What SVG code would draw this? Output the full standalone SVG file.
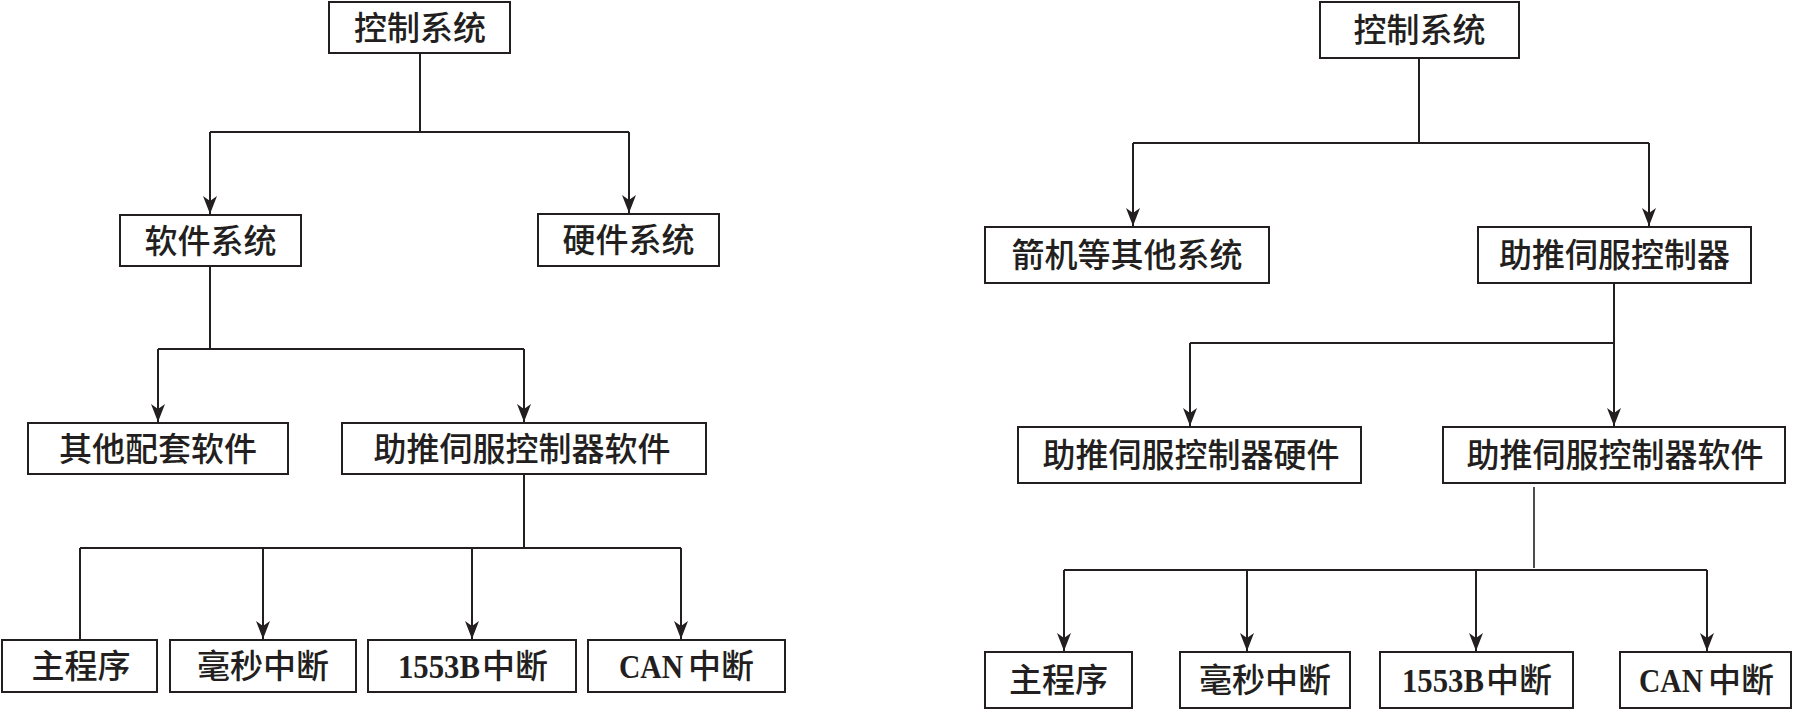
<svg xmlns="http://www.w3.org/2000/svg" width="1793" height="710" viewBox="0 0 1793 710">
<style>
.box{fill:#ffffff;stroke:#231f20;stroke-width:2}
.t{font-family:"Noto Sans CJK SC","Noto Sans CJK TC",sans-serif;font-size:33px;font-weight:500;fill:#231f20;text-anchor:middle}
.ts{font-family:"Noto Sans CJK SC","Noto Sans CJK TC",sans-serif;font-size:33px;font-weight:500;fill:#231f20;text-anchor:start}
.lat{font-family:"Liberation Serif","Times New Roman",serif;font-weight:bold;font-size:34px;fill:#231f20;text-anchor:start}
.ln{fill:none;stroke:#231f20;stroke-width:2}
.thin{fill:none;stroke:#231f20;stroke-width:1.6}
.arr{marker-end:url(#ah)}
</style>
<defs>
<marker id="ah" markerUnits="userSpaceOnUse" markerWidth="20" markerHeight="16" viewBox="-19 -8 20 16" refX="0" refY="0" orient="auto">
<path d="M0,0 L-18,-7 L-13,0 L-18,7 Z" fill="#231f20"/>
</marker>
</defs>
<rect width="1793" height="710" fill="#ffffff"/>
<g id="connectors">
<!-- left tree -->
<path class="ln" d="M420,54 V132 M210,132 H629"/>
<path class="ln arr" d="M210,132 V214"/>
<path class="ln arr" d="M629,132 V213"/>
<path class="ln" d="M210,267 V349 M158,349 H524"/>
<path class="ln arr" d="M158,349 V422"/>
<path class="ln arr" d="M524,349 V422"/>
<path class="ln" d="M524,475 V548 M80,548 H681 M80,548 V639"/>
<path class="ln arr" d="M263,548 V639"/>
<path class="ln arr" d="M472,548 V639"/>
<path class="ln arr" d="M681,548 V639"/>
<!-- right tree -->
<path class="ln" d="M1419,59 V143 M1133,143 H1649"/>
<path class="ln arr" d="M1133,143 V226"/>
<path class="ln arr" d="M1649,143 V226"/>
<path class="ln" d="M1614,284 V343 M1190,343 H1614"/>
<path class="ln arr" d="M1190,343 V426"/>
<path class="ln arr" d="M1614,343 V426"/>
<path class="thin" d="M1534,487 V568"/>
<path class="ln" d="M1064,570 H1707"/>
<path class="ln arr" d="M1064,570 V651"/>
<path class="ln arr" d="M1247,570 V651"/>
<path class="ln arr" d="M1476,570 V651"/>
<path class="ln arr" d="M1707,570 V651"/>
</g>
<!-- left tree nodes -->
<g id="L_ctrl"><rect class="box" x="329" y="2" width="181" height="51"/><text class="t" x="420" y="39.5">控制系统</text></g>
<g id="L_sw"><rect class="box" x="120" y="215" width="181" height="51"/><text class="t" x="210.5" y="252.5">软件系统</text></g>
<g id="L_hw"><rect class="box" x="538" y="214" width="181" height="52"/><text class="t" x="628.5" y="252">硬件系统</text></g>
<g id="L_other"><rect class="box" x="28" y="423" width="260" height="51"/><text class="t" x="158" y="460.5">其他配套软件</text></g>
<g id="L_servo_sw"><rect class="box" x="342" y="423" width="364" height="51"/><text class="t" x="522" y="460.5">助推伺服控制器软件</text></g>
<g id="L_main"><rect class="box" x="2" y="640" width="155" height="52"/><text class="t" x="81" y="678">主程序</text></g>
<g id="L_ms"><rect class="box" x="170" y="640" width="186" height="52"/><text class="t" x="263" y="678">毫秒中断</text></g>
<g id="L_1553"><rect class="box" x="368" y="640" width="208" height="52"/><text class="lat" x="398" y="678" textLength="82" lengthAdjust="spacingAndGlyphs">1553B</text><text class="ts" x="482" y="678">中断</text></g>
<g id="L_can"><rect class="box" x="588" y="640" width="197" height="52"/><text class="lat" x="619" y="678" textLength="64" lengthAdjust="spacingAndGlyphs">CAN</text><text class="ts" x="688" y="678">中断</text></g>
<!-- right tree nodes -->
<g id="R_ctrl"><rect class="box" x="1320" y="2" width="199" height="56"/><text class="t" x="1419.5" y="42">控制系统</text></g>
<g id="R_other"><rect class="box" x="985" y="227" width="284" height="56"/><text class="t" x="1127" y="267">箭机等其他系统</text></g>
<g id="R_servo"><rect class="box" x="1478" y="227" width="273" height="56"/><text class="t" x="1614.5" y="267">助推伺服控制器</text></g>
<g id="R_servo_hw"><rect class="box" x="1018" y="427" width="343" height="56"/><text class="t" x="1191" y="467">助推伺服控制器硬件</text></g>
<g id="R_servo_sw"><rect class="box" x="1443" y="427" width="342" height="56"/><text class="t" x="1615" y="467">助推伺服控制器软件</text></g>
<g id="R_main"><rect class="box" x="985" y="652" width="147" height="56"/><text class="t" x="1058.5" y="692">主程序</text></g>
<g id="R_ms"><rect class="box" x="1180" y="652" width="170" height="56"/><text class="t" x="1265" y="692">毫秒中断</text></g>
<g id="R_1553"><rect class="box" x="1380" y="652" width="193" height="56"/><text class="lat" x="1402" y="692" textLength="82" lengthAdjust="spacingAndGlyphs">1553B</text><text class="ts" x="1486" y="692">中断</text></g>
<g id="R_can"><rect class="box" x="1620" y="652" width="171" height="56"/><text class="lat" x="1639" y="692" textLength="64" lengthAdjust="spacingAndGlyphs">CAN</text><text class="ts" x="1708" y="692">中断</text></g>
</svg>
